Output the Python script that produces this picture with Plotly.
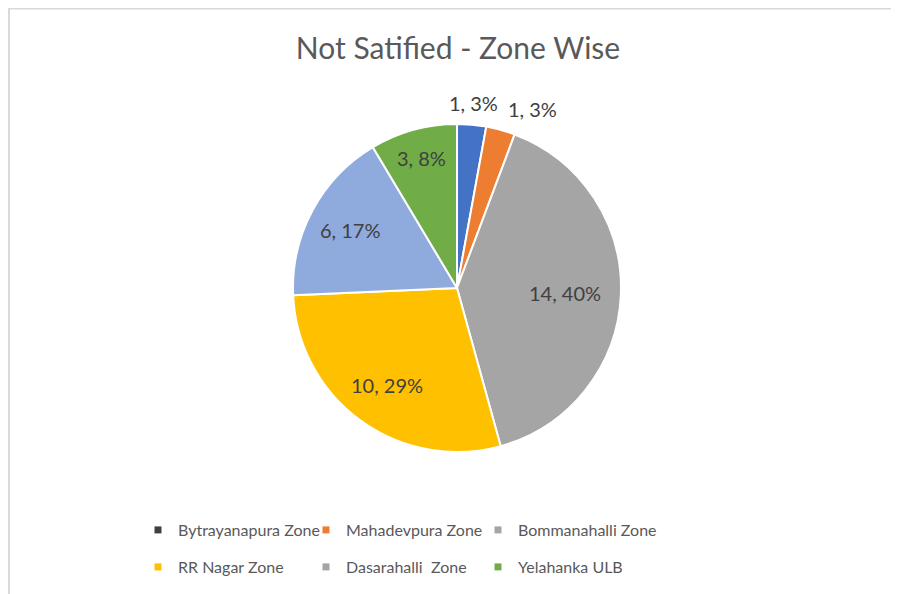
import math
import plotly.graph_objects as go

# page has an 8px body margin; the figure fills the rest of the 899x594 window
OFF = 8
W, H = 899 - OFF, 594 - OFF

zones = ["Bytrayanapura Zone", "Mahadevpura Zone", "Bommanahalli Zone",
         "RR Nagar Zone", "Dasarahalli  Zone", "Yelahanka ULB"]
counts = [1, 1, 14, 10, 6, 3]
pct_labels = ["3%", "3%", "40%", "29%", "17%", "8%"]

slice_colors = ["#4472C4", "#ED7D31", "#A5A5A5", "#FFC000", "#8FAADC", "#70AD47"]
legend_colors = ["#404040", "#ED7D31", "#A5A5A5", "#FFC000", "#A5A5A5", "#70AD47"]

# label placement style: radial distance (fraction of radius) and anchor
label_r = [1.134, 1.134, 0.66, 0.73, 0.74, 0.82]
label_anchor = ["center", "left", "center", "center", "center", "center"]

FONT = "Lato"
TXT = "#404040"


def px(x):
    return (x - OFF) / W


def py(y):
    return 1 - (y - OFF) / H


# pie geometry in page pixels
CX, CY, R = 457, 288, 164

fig = go.Figure()

fig.add_trace(go.Pie(
    labels=zones,
    values=counts,
    textinfo="none",
    sort=False,
    direction="clockwise",
    rotation=0,
    marker=dict(colors=slice_colors, line=dict(color="white", width=2)),
    domain=dict(x=[px(CX - R), px(CX + R)], y=[py(CY + R), py(CY - R)]),
    showlegend=False,
    hoverinfo="label+value+percent",
))

# data labels positioned from each slice's mid angle
total = sum(counts)
cum = 0
annotations = []
for c, p, rf, anc in zip(counts, pct_labels, label_r, label_anchor):
    theta = 2 * math.pi * (cum + c / 2) / total
    cum += c
    lx = CX + rf * R * math.sin(theta)
    ly = CY - rf * R * math.cos(theta)
    annotations.append(dict(
        x=px(lx), y=py(ly), xref="paper", yref="paper",
        text=f"{c}, {p}", showarrow=False, xanchor=anc, yanchor="middle",
        font=dict(family=FONT, size=20, color=TXT),
    ))

# legend: one legend box per entry, laid out in a 3x2 grid
col_text_x = [178, 346, 518]
row_y = [530, 567]
leg_layout = {}
for i, (z, col) in enumerate(zip(zones, legend_colors)):
    key = "legend" if i == 0 else f"legend{i + 1}"
    fig.add_trace(go.Scatter(
        x=[None], y=[None], mode="markers", name=z,
        marker=dict(symbol="square", size=7, color=col),
        legend=key, hoverinfo="skip",
    ))
    leg_layout[key] = dict(
        x=px(col_text_x[i % 3] - 40), y=py(row_y[i // 3]),
        xanchor="left", yanchor="middle", orientation="h",
        font=dict(family=FONT, size=16, color="#595959"),
        bgcolor="rgba(0,0,0,0)", itemwidth=30,
    )

fig.update_layout(
    width=W, height=H,
    margin=dict(l=0, r=0, t=0, b=0),
    paper_bgcolor="white", plot_bgcolor="white",
    title=dict(text="Not Satified - Zone Wise", x=px(458), xanchor="center",
               y=py(48), yanchor="middle",
               font=dict(family=FONT, size=30, color="#595959")),
    xaxis=dict(visible=False), yaxis=dict(visible=False),
    annotations=annotations,
    shapes=[
        dict(type="line", xref="paper", yref="paper", x0=0, x1=1, y0=py(8.5), y1=py(8.5),
             line=dict(color="#D9D9D9", width=2)),
        dict(type="line", xref="paper", yref="paper", x0=px(9), x1=px(9), y0=0, y1=py(8.5),
             line=dict(color="#D9D9D9", width=2)),
    ],
    **leg_layout,
)

fig.write_html("out.html")
